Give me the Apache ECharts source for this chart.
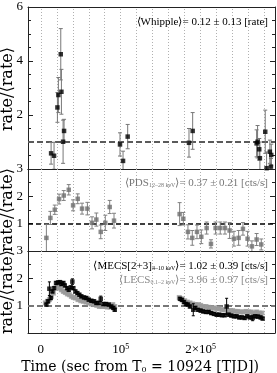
<!DOCTYPE html>
<html><head><meta charset="utf-8">
<script src="https://cdn.jsdelivr.net/npm/echarts@6/dist/echarts.min.js"></script>
<style>html,body{margin:0;padding:0;background:#fff}#c{width:277px;height:373px}</style>
</head><body><div id="c"></div>
<script>
// ---- x axis: tick labels and dotted grid positions ----
const xTickLabels = {0: '0', 100000: '{b|10}{p|5}', 200000: '{b|2×10}{p|5}'};
const xGridValues = [0,20000,40000,60000,80000,100000,120000,140000,160000,180000,200000,220000,240000,260000,280000];
// ---- Whipple (top panel) ----
const whipT = [12900,16600,20800,22000,25000,25800,27900,29100,99100,102900,108700,185400,190000,270000,271200,273300,274100,280800,282500,286600,288300,287900];
const whipV = [0.58,0.49,2.28,2.74,4.25,2.86,1.01,1.41,0.91,0.30,1.20,0.97,1.41,0.95,1.01,0.73,0.40,1.38,0.03,0.64,0.52,0.09];
const whipE = [0.40,0.50,0.55,0.65,0.95,0.83,0.80,0.43,0.43,0.36,0.45,0.53,0.68,0.50,0.60,0.40,0.60,0.80,0.60,0.43,0.40,0.30];
// ---- PDS 12-28 keV (middle panel) ----
const pdsT = [7000,12000,17500,22900,28700,35000,40400,46200,51600,58300,64100,69500,75000,80700,86200,91600,173700,178300,184100,189500,195400,200800,207500,212900,218700,224500,230400,236200,241600,247500,252900,258700,264100,270000,275800];
const pdsV = [0.48,1.21,1.51,1.90,2.03,2.24,1.67,1.91,1.55,1.55,1.03,1.15,0.70,1.03,1.61,1.11,1.35,1.18,0.70,0.48,0.70,0.52,0.84,0.26,0.84,0.84,0.84,0.75,0.45,0.48,0.81,0.45,0.17,0.42,0.24];
const pdsE = [0.50,0.24,0.17,0.18,0.18,0.19,0.20,0.18,0.20,0.23,0.22,0.24,0.25,0.28,0.24,0.27,0.42,0.23,0.26,0.27,0.25,0.25,0.22,0.15,0.22,0.22,0.22,0.29,0.27,0.27,0.23,0.27,0.20,0.22,0.20];
// ---- MECS[2+3] 4-10 keV (bottom panel, black) ----
const mecsT = [7000,9100,10750,12500,14500,16600,19100,21600,24100,25750,28250,30000,32900,35000,37500,39500,40750,43250,45750,48250,50750,54100,57000,60000,63250,66600,69500,72500,75000,78250,81600,85000,88250,90750,92500,
  174100,176600,179100,181600,184100,186600,190750,193250,196600,200000,203250,206600,210000,213250,216600,220000,223250,226600,230000,232500,235000,238250,241600,245000,248250,251600,255000,258250,261600,265000,268250,271600,275000,277500];
const mecsV = [1.04,1.16,1.62,1.28,1.52,1.64,1.83,1.85,1.86,1.79,1.83,1.74,1.64,1.58,1.67,1.88,1.64,1.52,1.46,1.40,1.34,1.30,1.28,1.22,1.18,1.16,1.10,1.10,1.25,1.06,1.06,1.04,0.97,0.92,0.85,
  1.25,1.21,1.13,1.06,1.04,0.97,0.85,0.92,0.85,0.82,0.79,0.77,0.77,0.73,0.70,0.67,0.67,0.65,0.65,0.97,0.67,0.64,0.61,0.61,0.57,0.57,0.55,0.61,0.57,0.55,0.61,0.60,0.57,0.53];
const mecsE = [0.05,0.05,0.25,0.05,0.05,0.05,0.05,0.05,0.05,0.05,0.05,0.05,0.05,0.05,0.05,0.10,0.05,0.05,0.05,0.05,0.05,0.05,0.05,0.05,0.05,0.05,0.05,0.05,0.10,0.05,0.05,0.05,0.05,0.05,0.05,
  0.05,0.05,0.05,0.05,0.05,0.05,0.22,0.05,0.05,0.05,0.05,0.05,0.05,0.05,0.05,0.05,0.05,0.05,0.05,0.30,0.05,0.05,0.05,0.05,0.05,0.05,0.05,0.05,0.05,0.10,0.05,0.05,0.05,0.05];
// ---- LECS 0.1-2 keV (bottom panel, gray) ----
const lecsT = [5750,8250,10750,13250,15750,18250,20750,23250,25750,28250,30750,33250,35750,38250,40750,43250,46600,50000,53250,56600,60000,63250,66600,70000,73250,76600,80000,83250,86600,90000,92500,
  173250,176600,180000,183250,186600,190000,193250,196600,200000,203250,206600,210000,213250,216600,220000,223250,226600,230000,233250,236600,240000,243250,246600,250000,253250,256600,260000,263250,266600,270000,273250,276600];
const lecsV = [1.10,1.16,1.22,1.34,1.46,1.64,1.70,1.64,1.58,1.52,1.48,1.43,1.40,1.34,1.30,1.28,1.22,1.18,1.16,1.13,1.10,1.06,1.04,1.01,0.97,0.97,0.97,0.95,0.95,1.04,0.97,
  1.30,1.25,1.18,1.13,1.10,1.06,1.04,1.04,1.01,0.97,0.97,0.94,0.92,0.92,0.89,0.89,0.85,0.85,0.82,0.82,0.82,0.79,0.79,0.77,0.77,0.79,0.77,0.77,0.73,0.77,0.73,0.73];
const lecsE = 0.04;

const X_MIN = -16000, X_MAX = 293000;
const serif = '"DejaVu Serif", serif';
const lserif = '"Liberation Serif", serif';
const frame = '#222';

function errData(T, V, E) {
  return T.map((t, i) => [t, V[i] - (Array.isArray(E) ? E[i] : E), V[i] + (Array.isArray(E) ? E[i] : E)]);
}
function ptData(T, V) { return T.map((t, i) => [t, V[i]]); }
function errRender(color, cap) {
  return function (params, api) {
    const x = api.value(0), lo = api.value(1), hi = api.value(2);
    const a = api.coord([x, hi]), b = api.coord([x, lo]);
    const s = {stroke: color, lineWidth: 1};
    return {type: 'group', children: [
      {type: 'line', shape: {x1: a[0], y1: a[1], x2: b[0], y2: b[1]}, style: s},
      {type: 'line', shape: {x1: a[0] - cap, y1: a[1], x2: a[0] + cap, y2: a[1]}, style: s},
      {type: 'line', shape: {x1: b[0] - cap, y1: b[1], x2: b[0] + cap, y2: b[1]}, style: s}
    ]};
  };
}

const grids = [
  {left: 28, right: 2, top: 7, height: 162},
  {left: 28, right: 2, top: 169, height: 82},
  {left: 28, right: 2, top: 251, height: 82}
];
const xAxes = [], yAxes = [];
grids.forEach((g, i) => {
  xAxes.push({
    type: 'value', gridIndex: i, min: X_MIN, max: X_MAX, position: 'bottom', splitNumber: 6,
    axisLine: {show: true, onZero: false, lineStyle: {color: frame, width: 1}},
    axisTick: {show: false},
    splitLine: {show: false},
    axisLabel: i === 2 ? {
      show: true, margin: 10, color: '#000', fontFamily: lserif, fontSize: 13,
      showMinLabel: false, showMaxLabel: false,
      formatter: v => xTickLabels[v] !== undefined ? xTickLabels[v] : '',
      rich: {b: {fontFamily: lserif, fontSize: 13, color: '#000'}, p: {fontFamily: lserif, fontSize: 8, color: '#000', verticalAlign: 'top', padding: [0, 0, 6, 0]}}
    } : {show: false}
  });
  xAxes.push({
    type: 'value', gridIndex: i, min: X_MIN, max: X_MAX, position: 'top',
    axisLine: {show: true, onZero: false, lineStyle: {color: frame, width: 1}},
    axisTick: {show: false}, axisLabel: {show: false}, splitLine: {show: false}
  });
  const top = i === 0;
  const yBase = {
    type: 'value', gridIndex: i, min: 0, max: top ? 6 : 3, interval: top ? 2 : 1,
    axisLine: {show: true, onZero: false, lineStyle: {color: frame, width: 1}},
    axisTick: {show: true, inside: true, length: 5, lineStyle: {color: frame}},
    minorTick: {show: true, splitNumber: top ? 4 : 2, length: 3, lineStyle: {color: frame}},
    splitLine: {show: false}
  };
  yAxes.push(Object.assign({}, yBase, {
    position: 'left',
    axisLabel: {show: true, margin: 5, color: '#000', fontFamily: lserif, fontSize: 13,
      formatter: v => v === 0 ? '' : String(v)}
  }));
  yAxes.push(Object.assign({}, yBase, {position: 'right', axisLabel: {show: false}}));
});

// dotted vertical grid lines + dashed y=1 reference line, as markLines on the data series
function marks(color, width, dash) {
  const data = xGridValues.map(v => ({xAxis: v, lineStyle: {color: '#b0b0b0', width: 1, type: [1, 2]}}));
  data.push({yAxis: 1, lineStyle: {color: color, width: width, type: dash}});
  return {silent: true, symbol: 'none', label: {show: false}, data: data, z: 1};
}

const series = [
  {type: 'custom', xAxisIndex: 0, yAxisIndex: 0, clip: true, renderItem: errRender('#777', 2),
    encode: {x: 0, y: [1, 2]}, data: errData(whipT, whipV, whipE), z: 2},
  {type: 'scatter', xAxisIndex: 0, yAxisIndex: 0, symbol: 'rect', symbolSize: 4.5,
    itemStyle: {color: '#000'}, data: ptData(whipT, whipV), z: 3,
    markLine: marks('#5a5a5a', 2, [6, 3])},
  {type: 'custom', xAxisIndex: 2, yAxisIndex: 2, clip: true, renderItem: errRender('#808080', 2),
    encode: {x: 0, y: [1, 2]}, data: errData(pdsT, pdsV, pdsE), z: 2},
  {type: 'scatter', xAxisIndex: 2, yAxisIndex: 2, symbol: 'rect', symbolSize: 4.5,
    itemStyle: {color: '#6e6e6e'}, data: ptData(pdsT, pdsV), z: 3,
    markLine: marks('#000', 1.5, [5, 3])},
  {type: 'custom', xAxisIndex: 4, yAxisIndex: 4, clip: true, renderItem: errRender('#999', 1.5),
    encode: {x: 0, y: [1, 2]}, data: errData(lecsT, lecsV, lecsE), z: 2},
  {type: 'scatter', xAxisIndex: 4, yAxisIndex: 4, symbol: 'rect', symbolSize: 5,
    itemStyle: {color: '#9a9a9a'}, data: ptData(lecsT, lecsV), z: 3,
    markLine: marks('#777', 2, [6, 3])},
  {type: 'custom', xAxisIndex: 4, yAxisIndex: 4, clip: true, renderItem: errRender('#000', 1.5),
    encode: {x: 0, y: [1, 2]}, data: errData(mecsT, mecsV, mecsE), z: 4},
  {type: 'scatter', xAxisIndex: 4, yAxisIndex: 4, symbol: 'rect', symbolSize: 4.5,
    itemStyle: {color: '#000'}, data: ptData(mecsT, mecsV), z: 5}
];

const txt = (text, x, y, color, opts) => ({
  type: 'text', x: x, y: y, z: 100, rotation: (opts && opts.rot) || 0,
  style: Object.assign({text: text, align: 'right', verticalAlign: 'middle', fill: color,
    fontFamily: lserif, fontSize: 11,
    rich: {s: {fontFamily: lserif, fontSize: 6, fill: color, verticalAlign: 'bottom', padding: [5, 0, 0, 0]}}}, (opts && opts.style) || {})
});
const yTitleStyle = {align: 'center', fontFamily: serif, fontSize: 16};
const xTitleStyle = {align: 'center', fontFamily: serif, fontSize: 14,
  rich: {s: {fontFamily: serif, fontSize: 8, fill: '#000', verticalAlign: 'bottom', padding: [6, 0, 0, 0]}}};
const yTitle = 'rate/⟨rate⟩';
const xTitle = 'Time (sec from T{s|0} = 10924 [TJD])';

const chart = echarts.init(document.getElementById('c'), null, {renderer: 'canvas'});
chart.setOption({
  animation: false,
  backgroundColor: '#fff',
  grid: grids,
  xAxis: xAxes,
  yAxis: yAxes,
  series: series,
  graphic: [
    txt('⟨Whipple⟩= 0.12 ± 0.13 [rate]', 268, 22, '#000'),
    txt('⟨PDS{s|12–28 keV}⟩= 0.37 ± 0.21 [cts/s]', 268, 183, '#777'),
    txt('⟨MECS[2+3]{s|4–10 keV}⟩= 1.02 ± 0.39 [cts/s]', 268, 266, '#000'),
    txt('⟨LECS{s|0.1–2 keV}⟩= 3.96 ± 0.97 [cts/s]', 268, 280, '#888'),
    txt(yTitle, 8, 89, '#000', {rot: Math.PI / 2, style: yTitleStyle}),
    txt(yTitle, 8, 210, '#000', {rot: Math.PI / 2, style: yTitleStyle}),
    txt(yTitle, 8, 292, '#000', {rot: Math.PI / 2, style: yTitleStyle}),
    txt(xTitle, 140, 367, '#000', {style: xTitleStyle})
  ]
});
</script></body></html>
